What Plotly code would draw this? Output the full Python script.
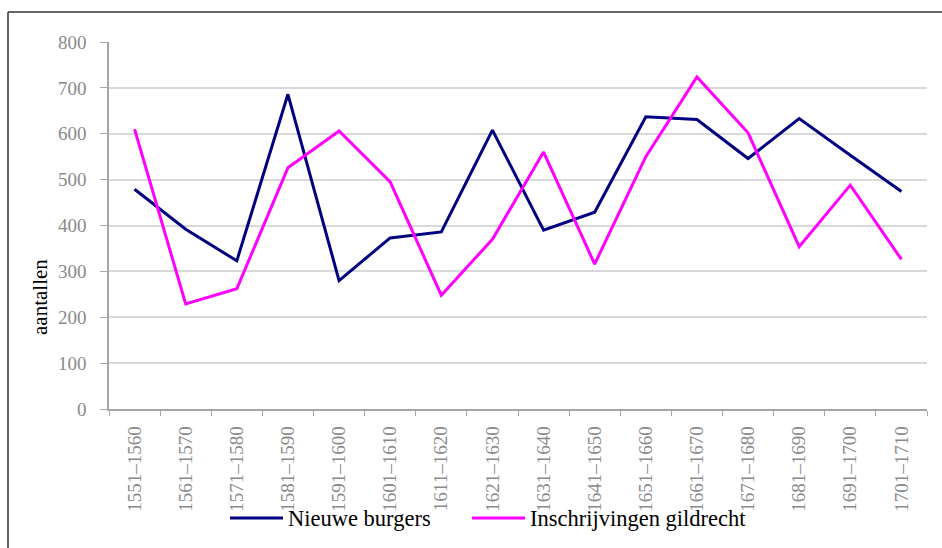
import plotly.graph_objects as go

periods = ["1551\u20131560", "1561\u20131570", "1571\u20131580", "1581\u20131590",
           "1591\u20131600", "1601\u20131610", "1611\u20131620", "1621\u20131630",
           "1631\u20131640", "1641\u20131650", "1651\u20131660", "1661\u20131670",
           "1671\u20131680", "1681\u20131690", "1691\u20131700", "1701\u20131710"]
nieuwe_burgers = [479, 392, 323, 686, 280, 373, 386, 608, 390, 429, 637, 631, 546, 633, 553, 474]
inschrijvingen = [610, 229, 262, 526, 606, 495, 248, 370, 560, 316, 550, 724, 602, 354, 488, 326]
y_ticks = [0, 100, 200, 300, 400, 500, 600, 700, 800]

NAVY = "#000080"
MAGENTA = "#ff00ff"
SERIF = "Liberation Serif"

W, H = 942, 548
L, R, T, B = 109, 15, 42, 139
pw, ph = W - L - R, H - T - B


def px_x(x):
    return (x - L) / pw


def px_y(y):
    return (H - B - y) / ph


fig = go.Figure()
fig.add_trace(go.Scatter(x=periods, y=nieuwe_burgers, mode="lines", name="Nieuwe burgers",
                         line=dict(color=NAVY, width=3), showlegend=False))
fig.add_trace(go.Scatter(x=periods, y=inschrijvingen, mode="lines", name="Inschrijvingen gildrecht",
                         line=dict(color=MAGENTA, width=3), showlegend=False))

# outer frame (top and left edges visible)
frame = dict(color="#333333", width=1.5)
fig.add_shape(type="line", xref="paper", yref="paper", x0=px_x(8), x1=px_x(W + 5),
              y0=px_y(12), y1=px_y(12), line=frame)
fig.add_shape(type="line", xref="paper", yref="paper", x0=px_x(8), x1=px_x(8),
              y0=px_y(12), y1=px_y(H + 5), line=frame)

# legend drawn beneath the axis labels
legend_y = 518
for (x0, x1, color, label) in [(230, 283, NAVY, "Nieuwe burgers"),
                               (472, 525, MAGENTA, "Inschrijvingen gildrecht")]:
    fig.add_shape(type="line", xref="paper", yref="paper", x0=px_x(x0), x1=px_x(x1),
                  y0=px_y(legend_y), y1=px_y(legend_y), line=dict(color=color, width=3))
    fig.add_annotation(x=px_x(x1 + 3), y=px_y(legend_y), xref="paper", yref="paper",
                       text=label, showarrow=False, xanchor="left", yanchor="middle",
                       font=dict(family=SERIF, size=22.5, color="#000000"))

fig.add_annotation(x=px_x(40), y=px_y(297), xref="paper", yref="paper", text="aantallen",
                   textangle=-90, showarrow=False, xanchor="center", yanchor="middle",
                   font=dict(family=SERIF, size=21, color="#000000"))

fig.update_layout(
    width=W, height=H, autosize=False,
    margin=dict(l=L, r=R, t=T, b=B),
    paper_bgcolor="white", plot_bgcolor="white",
    font=dict(family=SERIF),
)
fig.update_xaxes(
    type="category", range=[-0.5, len(periods) - 0.5],
    tickangle=-90, tickson="boundaries", ticks="outside", ticklen=5, tickcolor="#a6a6a6",
    showline=True, linecolor="#a6a6a6", linewidth=1.5, showgrid=False,
    tickfont=dict(family=SERIF, size=19, color="#8a8a8a"), ticklabelstandoff=8,
)
fig.update_yaxes(
    range=[0, 800], tickvals=y_ticks, ticks="outside", ticklen=7, tickcolor="#a6a6a6",
    showline=True, linecolor="#a6a6a6", linewidth=1.5,
    showgrid=True, gridcolor="#d9d9d9", gridwidth=1.5, zeroline=False,
    tickfont=dict(family=SERIF, size=19, color="#8a8a8a"), ticklabelstandoff=10,
)

fig.write_html("out.html")
